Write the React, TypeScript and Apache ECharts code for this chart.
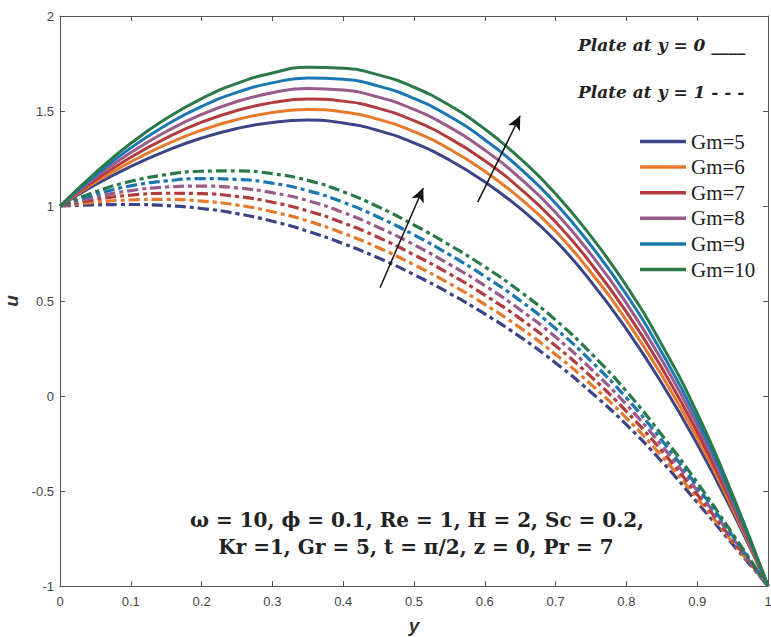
import React, { useEffect, useRef } from "react";
import * as echarts from "echarts";

// Positions along the channel (y) where curves were read
const Y_POS = [0, 0.05, 0.1, 0.15, 0.2, 0.25, 0.3, 0.35, 0.4, 0.45, 0.5, 0.55, 0.6, 0.65, 0.7, 0.75, 0.8, 0.85, 0.9, 0.95, 1];

const GM_VALUES = [5, 6, 7, 8, 9, 10];
const GM_COLORS = ["#3b4486", "#e67a2c", "#b23c3d", "#995a8c", "#1b77b1", "#2a7a48"];

// Plate at y = 0 (solid)
const SOLID_GM5 = [1.0, 1.112, 1.208, 1.29, 1.358, 1.408, 1.44, 1.452, 1.437, 1.397, 1.332, 1.242, 1.127, 0.987, 0.817, 0.602, 0.352, 0.067, -0.253, -0.61, -1.0];
const SOLID_GM6 = [1.0, 1.125, 1.232, 1.324, 1.399, 1.455, 1.492, 1.508, 1.495, 1.456, 1.391, 1.3, 1.183, 1.04, 0.867, 0.65, 0.398, 0.108, -0.22, -0.592, -1.0];
const SOLID_GM7 = [1.0, 1.137, 1.257, 1.358, 1.441, 1.503, 1.544, 1.563, 1.552, 1.514, 1.449, 1.357, 1.238, 1.092, 0.916, 0.697, 0.443, 0.148, -0.188, -0.574, -1.0];
const SOLID_GM8 = [1.0, 1.15, 1.281, 1.392, 1.482, 1.55, 1.596, 1.619, 1.61, 1.573, 1.508, 1.415, 1.294, 1.145, 0.966, 0.745, 0.489, 0.189, -0.155, -0.556, -1.0];
const SOLID_GM9 = [1.0, 1.162, 1.306, 1.426, 1.524, 1.598, 1.648, 1.674, 1.667, 1.631, 1.566, 1.472, 1.349, 1.197, 1.015, 0.792, 0.534, 0.229, -0.123, -0.538, -1.0];
const SOLID_GM10 = [1.0, 1.175, 1.33, 1.46, 1.565, 1.645, 1.7, 1.73, 1.725, 1.69, 1.625, 1.53, 1.405, 1.25, 1.065, 0.84, 0.58, 0.27, -0.09, -0.52, -1.0];

// Plate at y = 1 (dashed)
const DASH_GM5 = [1.0, 1.006, 1.008, 1.002, 0.987, 0.96, 0.92, 0.867, 0.802, 0.726, 0.639, 0.541, 0.432, 0.311, 0.174, 0.02, -0.151, -0.345, -0.56, -0.78, -1.0];
const DASH_GM6 = [1.0, 1.02, 1.032, 1.035, 1.026, 1.005, 0.97, 0.921, 0.857, 0.78, 0.691, 0.592, 0.482, 0.359, 0.219, 0.061, -0.116, -0.317, -0.539, -0.769, -1.0];
const DASH_GM7 = [1.0, 1.034, 1.057, 1.067, 1.065, 1.05, 1.02, 0.974, 0.911, 0.834, 0.743, 0.643, 0.531, 0.407, 0.264, 0.102, -0.081, -0.289, -0.518, -0.758, -1.0];
const DASH_GM8 = [1.0, 1.047, 1.081, 1.1, 1.105, 1.095, 1.07, 1.028, 0.966, 0.887, 0.796, 0.693, 0.581, 0.454, 0.31, 0.143, -0.045, -0.261, -0.497, -0.747, -1.0];
const DASH_GM9 = [1.0, 1.061, 1.106, 1.132, 1.144, 1.14, 1.12, 1.081, 1.02, 0.941, 0.848, 0.744, 0.63, 0.502, 0.355, 0.184, -0.01, -0.233, -0.476, -0.736, -1.0];
const DASH_GM10 = [1.0, 1.075, 1.13, 1.165, 1.183, 1.185, 1.17, 1.135, 1.075, 0.995, 0.9, 0.795, 0.68, 0.55, 0.4, 0.225, 0.025, -0.205, -0.455, -0.725, -1.0];

const SOLID = [SOLID_GM5, SOLID_GM6, SOLID_GM7, SOLID_GM8, SOLID_GM9, SOLID_GM10];
const DASHED = [DASH_GM5, DASH_GM6, DASH_GM7, DASH_GM8, DASH_GM9, DASH_GM10];

// Arrows (data coordinates): direction of increasing Gm
const ARROW_DASHED = [[0.452, 0.57], [0.513, 1.095]];
const ARROW_SOLID = [[0.59, 1.02], [0.65, 1.475]];

const PLATE_0 = "Plate at y = 0 ____";
const PLATE_1 = "Plate at y = 1 - - -";
const PARAM_LINE_1 = "ω = 10, ϕ = 0.1, Re = 1, H = 2, Sc = 0.2,";
const PARAM_LINE_2 = "Kr =1, Gr = 5, t = π/2, z = 0, Pr = 7";

export default function App() {
  const ref = useRef<HTMLDivElement>(null);

  useEffect(() => {
    if (!ref.current) return;
    const chart = echarts.init(ref.current, undefined, { renderer: "svg" });
    const axisColor = "#555";
    const fmt = (v: number) => String(Math.round(v * 10) / 10);

    const series: any[] = [];
    GM_VALUES.forEach((g, k) => {
      series.push({
        name: `Gm=${g}`,
        type: "line",
        data: Y_POS.map((x, i) => [x, SOLID[k][i]]),
        smooth: 0.5,
        symbol: "none",
        lineStyle: { color: GM_COLORS[k], width: 3 },
        itemStyle: { color: GM_COLORS[k] },
        z: 3,
      });
    });
    GM_VALUES.forEach((g, k) => {
      series.push({
        name: `Gm=${g} (plate y=1)`,
        type: "line",
        data: Y_POS.map((x, i) => [x, DASHED[k][i]]),
        smooth: 0.5,
        symbol: "none",
        lineStyle: { color: GM_COLORS[k], width: 3.2, type: [11, 4, 4, 4] },
        itemStyle: { color: GM_COLORS[k] },
        z: 2,
      });
    });
    series.push({
      name: "arrows",
      type: "line",
      data: [],
      silent: true,
      markLine: {
        silent: true,
        symbol: ["none", "arrow"],
        symbolSize: [10, 14],
        label: { show: false },
        lineStyle: { color: "#111", width: 1.5, type: "solid" },
        data: [
          [{ coord: ARROW_DASHED[0] }, { coord: ARROW_DASHED[1] }],
          [{ coord: ARROW_SOLID[0] }, { coord: ARROW_SOLID[1] }],
        ],
      },
    });

    const baseX = {
      type: "value",
      min: 0,
      max: 1,
      interval: 0.1,
      splitLine: { show: false },
      axisLine: { show: true, onZero: false, lineStyle: { color: axisColor, width: 1 } },
      axisTick: { show: true, inside: true, length: 5, lineStyle: { color: axisColor } },
    };
    const baseY = {
      type: "value",
      min: -1,
      max: 2,
      interval: 0.5,
      splitLine: { show: false },
      axisLine: { show: true, onZero: false, lineStyle: { color: axisColor, width: 1 } },
      axisTick: { show: true, inside: true, length: 5, lineStyle: { color: axisColor } },
    };

    chart.setOption({
      animation: false,
      backgroundColor: "#fff",
      grid: { left: 60, right: 3, top: 16, bottom: 51, containLabel: false, outerBoundsMode: "none" },
      legend: {
        data: GM_VALUES.map((g) => `Gm=${g}`),
        orient: "vertical",
        left: 640,
        top: 131,
        padding: 0,
        icon: "rect",
        itemWidth: 46,
        itemHeight: 3.5,
        itemGap: 4.6,
        selectedMode: false,
        textStyle: { fontFamily: "Liberation Serif", fontSize: 21, color: "#222", lineHeight: 20 },
      },
      xAxis: [
        {
          ...baseX,
          position: "bottom",
          name: "y",
          nameLocation: "middle",
          nameGap: 30,
          nameTextStyle: { fontFamily: "Liberation Sans", fontStyle: "italic", fontWeight: "bold", fontSize: 19, color: "#333" },
          axisLabel: { show: true, formatter: fmt, margin: 9, fontFamily: "Liberation Sans", fontSize: 13, color: "#444" },
        },
        {
          ...baseX,
          position: "top",
          axisLabel: { show: false },
        },
      ],
      yAxis: [
        {
          ...baseY,
          position: "left",
          name: "u",
          nameLocation: "middle",
          nameGap: 38,
          nameRotate: 90,
          nameTextStyle: { fontFamily: "Liberation Sans", fontStyle: "italic", fontWeight: "bold", fontSize: 19, color: "#333" },
          axisLabel: { show: true, formatter: fmt, margin: 6, fontFamily: "Liberation Sans", fontSize: 13, color: "#444" },
        },
        {
          ...baseY,
          position: "right",
          axisLabel: { show: false },
        },
      ],
      graphic: [
        {
          type: "text",
          x: 578,
          y: 45,
          style: { text: PLATE_0, font: 'italic bold 17px "DejaVu Serif"', fill: "#222", textVerticalAlign: "middle" },
        },
        {
          type: "text",
          x: 578,
          y: 92,
          style: { text: PLATE_1, font: 'italic bold 17px "DejaVu Serif"', fill: "#222", textVerticalAlign: "middle" },
        },
        {
          type: "text",
          x: 417,
          y: 520,
          style: { text: PARAM_LINE_1, font: 'bold 20px "DejaVu Serif"', fill: "#222", textAlign: "center", textVerticalAlign: "middle" },
        },
        {
          type: "text",
          x: 416,
          y: 547,
          style: { text: PARAM_LINE_2, font: 'bold 20px "DejaVu Serif"', fill: "#222", textAlign: "center", textVerticalAlign: "middle" },
        },
      ],
      series,
    });

    return () => chart.dispose();
  }, []);

  return (
    <div
      ref={ref}
      style={{ position: "fixed", left: 0, top: 0, width: 771, height: 637, background: "#fff" }}
    />
  );
}
